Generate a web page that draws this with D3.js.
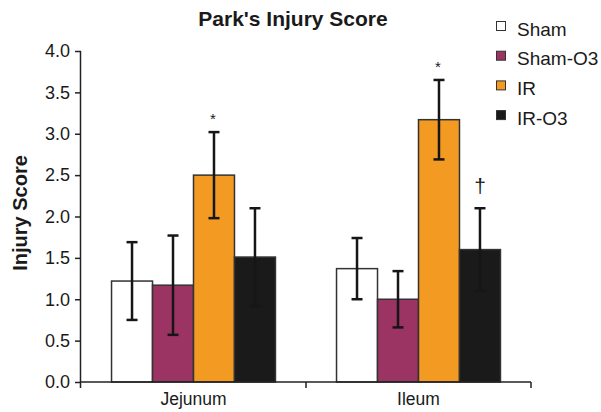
<!DOCTYPE html>
<html>
<head>
<meta charset="utf-8">
<script src="https://cdn.jsdelivr.net/npm/d3@7"></script>
<style>
  body { margin: 0; background: #fff; }
  svg text { font-family: "Liberation Sans", Arial, Helvetica, sans-serif; fill: #1a1a1a; }
</style>
</head>
<body>
<svg id="chart" width="601" height="412"></svg>
<script>
// Park's injury score by intestinal segment and treatment group
const segments = ["Jejunum", "Ileum"];
const groups = ["Sham", "Sham-O3", "IR", "IR-O3"];
const groupColors = ["#ffffff", "#9b3363", "#f39a22", "#1a1a1a"];
// mean score per group, one array per segment
const jejunumMeans = [1.22, 1.17, 2.50, 1.51];
const ileumMeans = [1.37, 1.00, 3.17, 1.60];
// error bar half-widths (SD)
const jejunumErr = [0.47, 0.60, 0.52, 0.59];
const ileumErr = [0.37, 0.34, 0.48, 0.50];
// significance markers above the error bars
const jejunumMarks = ["", "", "*", ""];
const ileumMarks = ["", "", "*", "†"];
const yTicks = [0, 0.5, 1, 1.5, 2, 2.5, 3, 3.5, 4];

const rows = segments.map((s, i) => ({
  segment: s,
  means: [jejunumMeans, ileumMeans][i],
  errs: [jejunumErr, ileumErr][i],
  marks: [jejunumMarks, ileumMarks][i]
}));

const svg = d3.select("#chart");
const plotLeft = 81, plotRight = 531, plotTop = 51, plotBottom = 382;

const x0 = d3.scaleBand().domain(segments).range([plotLeft, plotRight]).paddingInner(0).paddingOuter(0);
const x1 = d3.scaleBand().domain(groups).range([0, x0.bandwidth()]).paddingOuter(0.745).paddingInner(0);
const y = d3.scaleLinear().domain([0, 4]).range([plotBottom, plotTop]);
const color = d3.scaleOrdinal().domain(groups).range(groupColors);

// title
svg.append("text")
  .attr("x", 293).attr("y", 26)
  .attr("text-anchor", "middle")
  .style("font-size", "21px").style("font-weight", "bold")
  .text("Park's Injury Score");

// y axis label
svg.append("text")
  .attr("transform", "translate(27,213) rotate(-90)")
  .attr("text-anchor", "middle")
  .style("font-size", "20px").style("font-weight", "bold")
  .text("Injury Score");

// bars
const seg = svg.append("g").selectAll("g.seg").data(rows).join("g")
  .attr("class", "seg")
  .attr("transform", d => `translate(${x0(d.segment)},0)`);

seg.selectAll("rect").data(d => d.means.map((v, i) => ({ g: groups[i], v })))
  .join("rect")
  .attr("x", d => x1(d.g))
  .attr("width", x1.bandwidth())
  .attr("y", d => y(d.v))
  .attr("height", d => plotBottom - y(d.v))
  .attr("fill", d => color(d.g))
  .attr("stroke", "#333")
  .attr("stroke-width", 1.5);

// error bars
const eb = seg.selectAll("g.err").data(d => d.means.map((v, i) => ({ g: groups[i], v, e: d.errs[i], m: d.marks[i] })))
  .join("g").attr("class", "err")
  .attr("transform", d => `translate(${x1(d.g) + x1.bandwidth() / 2},0)`);
eb.append("line")
  .attr("y1", d => y(d.v + d.e)).attr("y2", d => y(d.v - d.e))
  .attr("stroke", "#161616").attr("stroke-width", 2.5);
eb.selectAll("line.cap").data(d => [d.v + d.e, d.v - d.e]).join("line")
  .attr("class", "cap")
  .attr("x1", -5.5).attr("x2", 5.5)
  .attr("y1", d => y(d)).attr("y2", d => y(d))
  .attr("stroke", "#161616").attr("stroke-width", 2.5);

// significance markers
eb.filter(d => d.m === "*").append("text")
  .attr("x", -1).attr("y", d => y(d.v + d.e) - 8)
  .attr("text-anchor", "middle")
  .style("font-size", "15px")
  .text(d => d.m);
eb.filter(d => d.m === "†").append("text")
  .attr("x", 0).attr("y", d => y(d.v + d.e) - 15)
  .attr("text-anchor", "middle")
  .style("font-size", "21px")
  .text(d => d.m);

// y axis
const yAxis = svg.append("g")
  .attr("transform", `translate(${plotLeft},0)`)
  .call(d3.axisLeft(y).tickValues(yTicks).tickFormat(d3.format(".1f")).tickSize(6).tickPadding(5));
yAxis.select(".domain").attr("d", `M-0.5,${plotTop}V${plotBottom + 6}`)
  .attr("stroke", "#222").attr("stroke-width", 1.5);
yAxis.selectAll(".tick line").attr("stroke", "#222").attr("stroke-width", 1.5);
yAxis.selectAll("text").style("font-size", "18px");

// x axis with boundary ticks between segments
const xAxis = svg.append("g").attr("transform", `translate(0,${plotBottom})`);
xAxis.append("line")
  .attr("x1", plotLeft).attr("x2", plotRight)
  .attr("stroke", "#222").attr("stroke-width", 1.5);
const edges = [x0(segments[1]), plotRight];
xAxis.selectAll("line.tick").data(edges).join("line")
  .attr("class", "tick")
  .attr("x1", d => d).attr("x2", d => d)
  .attr("y1", 0).attr("y2", 6)
  .attr("stroke", "#222").attr("stroke-width", 1.5);
xAxis.selectAll("text").data(segments).join("text")
  .attr("x", d => x0(d) + x0.bandwidth() / 2)
  .attr("y", 23)
  .attr("text-anchor", "middle")
  .style("font-size", "17.5px")
  .text(d => d);

// legend
const legend = svg.append("g").attr("transform", "translate(496,21)");
const li = legend.selectAll("g").data(groups).join("g")
  .attr("transform", (d, i) => `translate(0,${i * 29.7})`);
li.append("rect")
  .attr("x", 0.5).attr("y", 0.5).attr("width", 9).attr("height", 9)
  .attr("fill", d => color(d)).attr("stroke", "#333").attr("stroke-width", 1);
li.append("text")
  .attr("x", 21).attr("y", 14.5)
  .style("font-size", "19px")
  .text(d => d);
</script>
</body>
</html>
